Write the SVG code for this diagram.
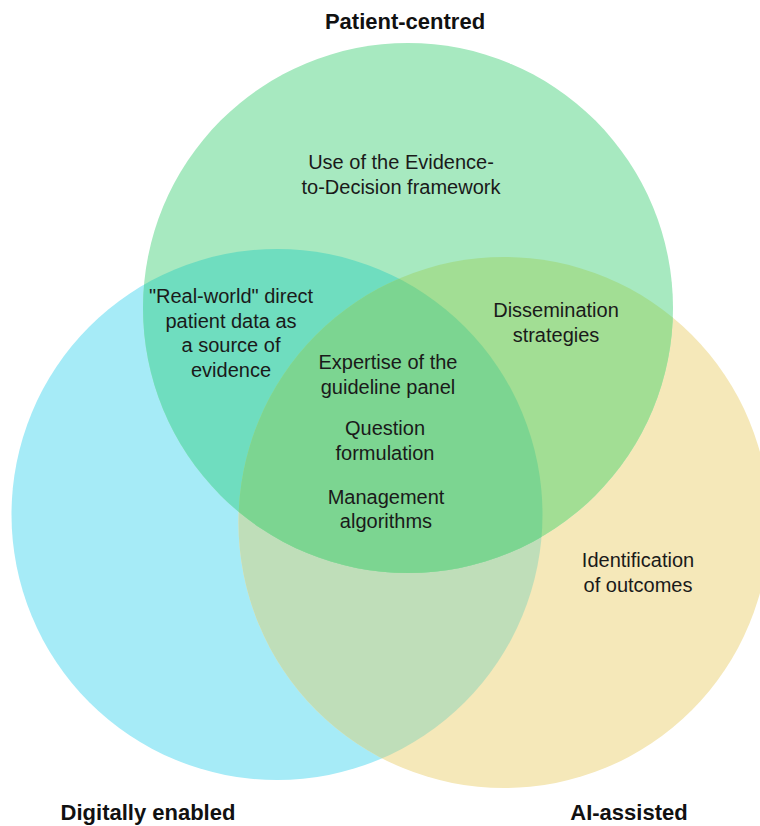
<svg xmlns="http://www.w3.org/2000/svg" width="760" height="826" viewBox="0 0 760 826">
<style>
.t{font-family:"Liberation Sans",Arial,sans-serif;font-size:20px;fill:#1a1a1a;text-anchor:middle}
.h{font-family:"Liberation Sans",Arial,sans-serif;font-size:22px;font-weight:bold;fill:#111;text-anchor:middle}
</style>
<defs>
<clipPath id="cG"><circle cx="408" cy="308" r="265"/></clipPath>
<clipPath id="cB"><circle cx="277" cy="514.5" r="265.5"/></clipPath>
<clipPath id="cY"><circle cx="504" cy="522.5" r="265.5"/></clipPath>
</defs>
<rect width="760" height="826" fill="#ffffff"/>
<g id="circles">
<circle id="blue" cx="277" cy="514.5" r="265.5" fill="#a6ebf7"/>
<circle id="yellow" cx="504" cy="522.5" r="265.5" fill="#f5e8b9"/>
<circle id="green" cx="408" cy="308" r="265" fill="#a7e9c0"/>
<g clip-path="url(#cB)"><circle cx="504" cy="522.5" r="265.5" fill="#bfdeb9"/></g>
<g clip-path="url(#cB)"><circle cx="408" cy="308" r="265" fill="#6fddbf"/></g>
<g clip-path="url(#cY)"><circle cx="408" cy="308" r="265" fill="#a2de94"/></g>
<g clip-path="url(#cY)"><g clip-path="url(#cB)"><circle cx="408" cy="308" r="265" fill="#7cd591"/></g></g>
</g>
<g id="labels">
<text class="h" x="405" y="29">Patient-centred</text>
<text class="h" x="148" y="820">Digitally enabled</text>
<text class="h" x="629" y="820">AI-assisted</text>
</g>
<g id="texts">
<text class="t" x="401" y="169">Use of the Evidence-</text>
<text class="t" x="401" y="194">to-Decision framework</text>
<text class="t" x="231" y="303">"Real-world" direct</text>
<text class="t" x="231" y="328">patient data as</text>
<text class="t" x="231" y="352">a source of</text>
<text class="t" x="231" y="377">evidence</text>
<text class="t" x="556" y="317">Dissemination</text>
<text class="t" x="556" y="342">strategies</text>
<text class="t" x="388" y="369">Expertise of the</text>
<text class="t" x="388" y="394">guideline panel</text>
<text class="t" x="385" y="435">Question</text>
<text class="t" x="385" y="460">formulation</text>
<text class="t" x="386" y="504">Management</text>
<text class="t" x="386" y="528">algorithms</text>
<text class="t" x="638" y="567">Identification</text>
<text class="t" x="638" y="592">of outcomes</text>
</g>
</svg>
